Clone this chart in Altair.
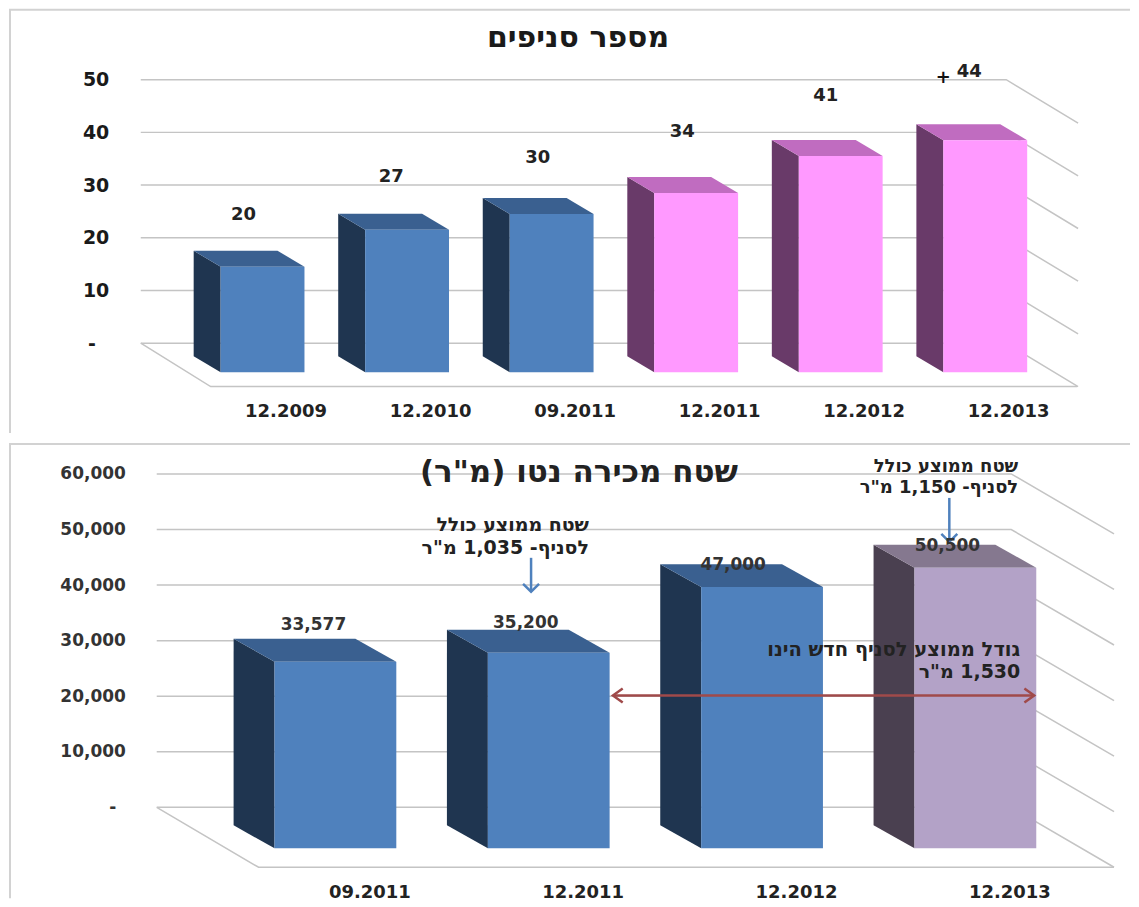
import altair as alt
import pandas as pd

# ---- values ----
branch_periods = ["12.2009", "12.2010", "09.2011", "12.2011", "12.2012", "12.2013"]
branch_counts = [20, 27, 30, 34, 41, 44]
branch_ticks = [0, 10, 20, 30, 40, 50]
branch_title = "מספר סניפים"

area_periods = ["09.2011", "12.2011", "12.2012", "12.2013"]
area_values = [33577, 35200, 47000, 50500]
area_ticks = [0, 10000, 20000, 30000, 40000, 50000, 60000]
area_title = "\u202bשטח מכירה נטו (מ\"ר)\u202c"

# ---- colours ----
BLUE = ("#4F81BD", "#1F3550", "#3A6090")
PINK = ("#FF99FF", "#693A69", "#C06CC0")
PURPLE = ("#B3A2C7", "#4A4050", "#85788F")
GRID = "#C4C4C4"
FONT = "DejaVu Sans"
WIDTH = 1123


class Geo:
    """Oblique projection of one panel, lengths given in screen pixels."""

    def __init__(s, top, height, zero_px, ppu, first, step, bar_w, dx, dy, base, wall_l, wall_r,
                 floor_l, floor_r, floor_y, diag_dx, diag_dy):
        s.top, s.height, s.zero_px, s.ppu = top, height, zero_px, ppu
        s.first, s.step, s.bar_w, s.dx, s.dy = first, step, bar_w, dx, dy
        s.base, s.wall_l, s.wall_r = base, wall_l, wall_r
        s.floor_l, s.floor_r, s.floor_y = floor_l, floor_r, floor_y
        s.diag_dx, s.diag_dy = diag_dx, diag_dy
        s.x_scale = alt.Scale(domain=[s.ux(8), s.ux(8 + WIDTH)], nice=False, zero=False)
        s.y_scale = alt.Scale(domain=[s.uy(top + height), s.uy(top)], nice=False, zero=False)
        s.x_axis = None
        s.y_axis = None

    def ux(s, px):
        return (px - s.first) / s.step

    def uy(s, px):
        return (s.zero_px - px) / s.ppu

    def X(s):
        return alt.X("x:Q", scale=s.x_scale, axis=s.x_axis, title=None)

    def Y(s):
        return alt.Y("y:Q", scale=s.y_scale, axis=s.y_axis, title=None, stack=None)

    def Y2(s):
        return alt.Y2("y2:Q")


def build_faces(g, values, palette):
    front, side, top = [], [], []
    w, d = g.bar_w / g.step, g.dx / g.step
    h = g.dy / g.ppu
    base = g.uy(g.base)
    for i, v in enumerate(values):
        fill = palette[i]
        tf = base + v
        tb = tf + h
        front.append(dict(x=i + d, x2=i + d + w, y=tf, y2=base, c=fill[0]))
        side += [
            dict(id=i, x=i, y=tb, y2=base + h, c=fill[1]),
            dict(id=i, x=i + d, y=tf, y2=base, c=fill[1]),
        ]
        top += [
            dict(id=i, x=i, y=tb, y2=tb, c=fill[2]),
            dict(id=i, x=i + d, y=tb, y2=tf, c=fill[2]),
            dict(id=i, x=i + w, y=tb, y2=tf, c=fill[2]),
            dict(id=i, x=i + w + d, y=tf, y2=tf, c=fill[2]),
        ]
    return pd.DataFrame(front), pd.DataFrame(side), pd.DataFrame(top)


def build_walls(g, ticks):
    rows = []
    for t in ticks:
        rows += [
            dict(id=f"g{t}", o=0, x=g.ux(g.wall_l), y=t),
            dict(id=f"g{t}", o=1, x=g.ux(g.wall_r), y=t),
        ]
        rows.append(dict(id=f"g{t}", o=2, x=g.ux(g.wall_r + g.diag_dx), y=t - g.diag_dy / g.ppu))
    fl = g.uy(g.floor_y)
    rows += [
        dict(id="f", o=0, x=g.ux(g.wall_l), y=0),
        dict(id="f", o=1, x=g.ux(g.floor_l), y=fl),
        dict(id="f", o=2, x=g.ux(g.floor_r), y=fl),
    ]
    return pd.DataFrame(rows)


def text_layer(g, rows, align="center"):
    df = pd.DataFrame(rows)
    return alt.Chart(df).mark_text(font=FONT, fontWeight="bold", align=align, baseline="middle").encode(
        x=g.X(),
        y=g.Y(),
        text="t:N",
        size=alt.Size("s:Q", scale=None),
        color=alt.Color("c:N", scale=None),
    )


def arrow_layers(g, segs):
    line_rows, tip_rows = [], []
    for n, (x0, y0, x1, y1, color, heads) in enumerate(segs):
        line_rows += [
            dict(id=n, o=0, x=g.ux(x0), y=g.uy(y0), c=color),
            dict(id=n, o=1, x=g.ux(x1), y=g.uy(y1), c=color),
        ]
        for hx, hy, path, size in heads:
            tip_rows.append(dict(x=g.ux(hx), y=g.uy(hy), c=color, p=path, size=size))
    lines = alt.Chart(pd.DataFrame(line_rows)).mark_line(strokeWidth=2.5).encode(
        x=g.X(), y=g.Y(), detail="id:N", order="o:Q", color=alt.Color("c:N", scale=None)
    )
    layers = [lines]
    for path in sorted({r["p"] for r in tip_rows}):
        sub = pd.DataFrame([r for r in tip_rows if r["p"] == path])
        layers.append(
            alt.Chart(sub).mark_point(shape=path, filled=False, strokeWidth=2.5, opacity=1, size=float(sub["size"].iloc[0])).encode(
                x=g.X(), y=g.Y(), color=alt.Color("c:N", scale=None)
            )
        )
    return layers


def frame(g, height, border_y):
    color = "#D2D2D2"
    seed = pd.DataFrame([{"a": 0}])
    top = alt.Chart(seed).mark_rule(color=color, strokeWidth=2).encode(
        x=alt.value(0), x2=alt.value(WIDTH), y=alt.value(border_y)
    )
    left = alt.Chart(seed).mark_rule(color=color, strokeWidth=2).encode(
        x=alt.value(1), y=alt.value(border_y), y2=alt.value(height)
    )
    return [top, left]


def set_axes(g, periods, ticks, tick_size, tick_color, tick_right, cat_off, cat_centre, tick_fmt):
    names = "[" + ",".join(f"'{p}'" for p in periods) + "]"
    cat_u = cat_centre / g.step
    g.x_axis = alt.Axis(
        orient="bottom",
        values=[i + cat_u for i in range(len(periods))],
        labelExpr=f"{names}[round(datum.value-{cat_u})]",
        offset=cat_off,
        domain=False,
        ticks=False,
        grid=False,
        labelPadding=0,
        labelFont=FONT,
        labelFontWeight="bold",
        labelFontSize=18,
        labelColor="#222222",
        labelOverlap=False,
        labelFlush=False,
        labelAngle=0,
    )
    g.y_axis = alt.Axis(
        orient="left",
        values=[t for t in ticks if t != 0],
        format=tick_fmt,
        offset=-(tick_right - 8),
        domain=False,
        ticks=False,
        grid=False,
        labelPadding=0,
        labelFont=FONT,
        labelFontWeight="bold",
        labelFontSize=tick_size,
        labelColor=tick_color,
        labelOverlap=False,
        labelFlush=False,
    )


def panel(g, values, ticks, palette, extras_text, arrows, border_y, border_bottom):
    front, side, top = build_faces(g, values, palette)
    walls = build_walls(g, ticks)
    layers = frame(g, g.height if border_bottom is None else border_bottom, border_y)
    layers.append(
        alt.Chart(walls).mark_line(color=GRID, strokeWidth=1.5).encode(
            x=g.X(), y=g.Y(), detail="id:N", order="o:Q"
        )
    )
    layers.append(
        alt.Chart(side).mark_area(interpolate="linear").encode(
            x=g.X(), y=g.Y(), y2=g.Y2(), detail="id:N", color=alt.Color("c:N", scale=None)
        )
    )
    layers.append(
        alt.Chart(top).mark_area(interpolate="linear").encode(
            x=g.X(), y=g.Y(), y2=g.Y2(), detail="id:N", color=alt.Color("c:N", scale=None)
        )
    )
    layers.append(
        alt.Chart(front).mark_rect().encode(
            x=g.X(), x2="x2:Q", y=g.Y(), y2=g.Y2(), color=alt.Color("c:N", scale=None)
        )
    )
    layers += arrows
    layers += extras_text
    return alt.layer(*layers).resolve_scale(x="shared", y="shared").properties(width=WIDTH, height=g.height)


# ---- upper panel ----
g1 = Geo(top=8, height=430, zero_px=343, ppu=5.28, first=193, step=144.8, bar_w=84, dx=27, dy=16,
         base=372, wall_l=140, wall_r=1007, floor_l=210, floor_r=1078, floor_y=386.5, diag_dx=72, diag_dy=43.5)
set_axes(g1, branch_periods, branch_ticks, 19, "#1A1A1A", 108, -36, 92, "d")
label_dx1 = [50, 53, 55, 55, 54, 53]
label_lift1 = [36, 37, 40, 45, 44, 52]
rows1 = []
for i, v in enumerate(branch_counts):
    top_back = g1.uy(g1.base) + v + g1.dy / g1.ppu
    rows1.append(dict(x=i + label_dx1[i] / g1.step, y=top_back + label_lift1[i] / g1.ppu,
                      t=str(v), s=18, c="#222222"))
rows1.append(dict(x=g1.ux(944), y=g1.uy(77), t="+", s=18, c="#111111"))
rows1.append(dict(x=g1.ux(578), y=g1.uy(37), t=branch_title, s=30, c="#1A1A1A"))
rows1.append(dict(x=g1.ux(91), y=g1.uy(344), t="-", s=19, c="#1A1A1A"))
palette1 = [BLUE, BLUE, BLUE, PINK, PINK, PINK]
top_panel = panel(g1, branch_counts, branch_ticks, palette1, [text_layer(g1, rows1)], [], 1, 425)

# ---- lower panel ----
g2 = Geo(top=437, height=461, zero_px=807, ppu=0.005567, first=233, step=213.7, bar_w=122, dx=41, dy=23,
         base=848, wall_l=156, wall_r=1012, floor_l=258, floor_r=1115, floor_y=867, diag_dx=103, diag_dy=60)
set_axes(g2, area_periods, area_ticks, 17, "#333333", 124.5, -15, 136, ",d")
label_dx2 = [80, 79, 73, 74]
label_lift2 = [14, 7, -1, -1]
rows2 = []
for i, v in enumerate(area_values):
    top_back = g2.uy(g2.base) + v + g2.dy / g2.ppu
    rows2.append(dict(x=i + label_dx2[i] / g2.step, y=top_back + label_lift2[i] / g2.ppu,
                      t=f"{v:,}", s=17, c="#333333"))
rows2.append(dict(x=g2.ux(579), y=g2.uy(472), t=area_title, s=31, c="#222222"))
rows2.append(dict(x=g2.ux(112), y=g2.uy(808), t="-", s=17, c="#333333"))

notes = [
    (589, 524, "שטח ממוצע כולל", 19),
    (589, 547, "\u202bלסניף- 1,035 מ\"ר\u202c", 19),
    (1019, 466, "שטח ממוצע כולל", 18),
    (1019, 487, "\u202bלסניף- 1,150 מ\"ר\u202c", 18),
    (1021, 649, "גודל ממוצע לסניף חדש הינו", 19.5),
    (1021, 671, "\u202b1,530 מ\"ר\u202c", 19),
]
rows3 = [dict(x=g2.ux(px), y=g2.uy(py), t=t, s=s, c="#222222") for px, py, t, s in notes]

DOWN = "M-1,-1L0,0L1,-1"
RIGHT = "M-1.4,-1L0,0L-1.4,1"
LEFT = "M1.4,-1L0,0L1.4,1"
arrows2 = arrow_layers(g2, [
    (531, 557, 531, 591, "#4F81BD", [(531, 591, DOWN, 256)]),
    (950, 497, 950, 541, "#4F81BD", [(950, 541, DOWN, 256)]),
    (613, 695, 1035, 695, "#A04A4A", [(1035, 695, RIGHT, 196), (613, 695, LEFT, 196)]),
])
palette2 = [BLUE, BLUE, BLUE, PURPLE]
bottom_panel = panel(g2, area_values, area_ticks, palette2,
                     [text_layer(g2, rows2), text_layer(g2, rows3, align="right")],
                     arrows2, 6, None)

chart = (
    alt.vconcat(top_panel, bottom_panel, spacing=0, padding=0, background="white")
    .configure_view(stroke=None)
)
chart.save("out.html", embed_options={"renderer": "svg", "actions": False})
